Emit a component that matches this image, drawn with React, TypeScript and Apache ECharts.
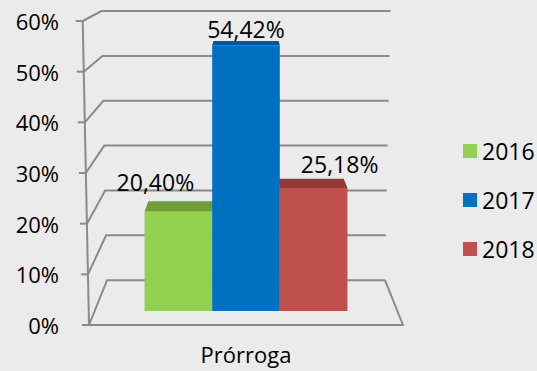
import React, { useEffect, useRef } from "react";
import * as echarts from "echarts";

const categories = ["Prórroga"];
const years = ["2016", "2017", "2018"];
const values = [20.4, 54.42, 25.18];
const tickValues = [0, 10, 20, 30, 40, 50, 60];

const FRONT_COLORS = ["#92D050", "#0070C0", "#C0504D"];
const CAP_COLORS = ["#6E9E3B", "#0059A0", "#933937"];
const LABEL_OFFSETS = [[-23, -19], [0, -12], [26, -15]];
const BAR_Z = [3, 4, 3];

const FONT = "'Open Sans', sans-serif";
const GRID_COLOR = "#8A8A8A";
const BG = "#EBEBEB";

// simple one-point perspective of the Excel-like 3D box
const DEPTH = 0.115; // how much the back wall shrinks toward the vanishing point
const VP_LEVEL = 77; // vanishing point height, in axis units
const FRAME_SPREAD = 0.04; // box widens slightly toward the top
const BAR_FRONT = 0.31;
const BAR_BACK = 0.62;
const GROUP = 0.67;

function makeProj(api: any) {
  const c0 = api.coord([0, 0]);
  const cTop = api.coord([0, 60]);
  const band = api.size([1, 0])[0];
  const cx = c0[0];
  const ppu = (c0[1] - cTop[1]) / 60;
  const vpY = c0[1] - VP_LEVEL * ppu;
  return (u: number, v: number, d: number, spread: number) => {
    const y = api.coord([0, v])[1];
    const x = cx + (u - 0.5) * band * (1 + (spread * v) / 60);
    const k = d * DEPTH;
    return [x + k * (cx - x), y + k * (vpY - y)];
  };
}

function fmt(v: number) {
  return v.toFixed(2).replace(".", ",") + "%";
}

export default function App() {
  const ref = useRef<HTMLDivElement>(null);
  useEffect(() => {
    if (!ref.current) return;
    const chart = echarts.init(ref.current, undefined, { renderer: "svg" });
    const lineStyle = { stroke: GRID_COLOR, lineWidth: 2, fill: null };

    const frameSeries = {
      type: "custom",
      name: "frame",
      z: 1,
      silent: true,
      data: tickValues.map((t) => [0, t]),
      renderItem: (params: any, api: any) => {
        const P = makeProj(api);
        const v = api.value(1);
        const F = P(0, v, 0, FRAME_SPREAD);
        const B = P(0, v, 1, FRAME_SPREAD);
        const BR = P(1, v, 1, FRAME_SPREAD);
        const children: any[] = [
          { type: "polyline", shape: { points: [F, B, BR] }, style: lineStyle },
          { type: "line", shape: { x1: F[0] - 7, y1: F[1], x2: F[0], y2: F[1] }, style: lineStyle },
        ];
        if (v === 0) {
          const FR = P(1, 0, 0, FRAME_SPREAD);
          children.push({ type: "line", shape: { x1: BR[0], y1: BR[1], x2: FR[0], y2: FR[1] }, style: lineStyle });
          const T = P(0, 60, 0, FRAME_SPREAD);
          children.push({ type: "line", shape: { x1: F[0], y1: F[1], x2: T[0], y2: T[1] }, style: lineStyle });
        }
        return { type: "group", children };
      },
    };

    const barSeries = years.map((year, i) => ({
      type: "custom",
      name: year,
      z: BAR_Z[i],
      itemStyle: { color: FRONT_COLORS[i] },
      data: [[0, values[i]]],
      renderItem: (params: any, api: any) => {
        const P = makeProj(api);
        const v = api.value(1);
        const uL = 0.5 - GROUP / 2 + (i * GROUP) / 3;
        const uR = uL + GROUP / 3;
        const fl0 = P(uL, 0, BAR_FRONT, 0);
        const fr0 = P(uR, 0, BAR_FRONT, 0);
        const flv = P(uL, v, BAR_FRONT, 0);
        const frv = P(uR, v, BAR_FRONT, 0);
        const blv = P(uL, v, BAR_BACK, 0);
        const brv = P(uR, v, BAR_BACK, 0);
        const cx = (flv[0] + frv[0]) / 2;
        return {
          type: "group",
          children: [
            { type: "polygon", shape: { points: [fl0, fr0, frv, flv] }, style: { fill: FRONT_COLORS[i] } },
            { type: "polygon", shape: { points: [flv, frv, brv, blv] }, style: { fill: CAP_COLORS[i] } },
            {
              type: "text",
              x: cx + LABEL_OFFSETS[i][0],
              y: blv[1] + LABEL_OFFSETS[i][1],
              z2: 10,
              style: {
                text: fmt(v),
                fill: "#000",
                fontSize: 23,
                fontFamily: FONT,
                align: "center",
                verticalAlign: "middle",
              },
            },
          ],
        };
      },
    }));

    chart.setOption({
      animation: false,
      backgroundColor: BG,
      textStyle: { fontFamily: FONT },
      grid: { left: 89, right: 134, top: 21, bottom: 46, containLabel: false },
      legend: {
        orient: "vertical",
        left: 458,
        top: 134,
        itemWidth: 14,
        itemHeight: 14,
        itemGap: 25,
        icon: "rect",
        data: years,
        selectedMode: false,
        textStyle: { fontSize: 23, lineHeight: 24, color: "#000", fontFamily: FONT },
      },
      xAxis: {
        type: "category",
        data: categories,
        axisLine: { lineStyle: { color: GRID_COLOR, width: 2 } },
        axisTick: { length: 7, lineStyle: { color: GRID_COLOR, width: 2 } },
        axisLabel: { fontSize: 22, color: "#000", margin: 18, fontFamily: FONT },
        splitLine: { show: false },
      },
      yAxis: {
        type: "value",
        min: 0,
        max: 60,
        interval: 10,
        axisLine: { show: false },
        axisTick: { show: false },
        splitLine: { show: false },
        axisLabel: { fontSize: 22, color: "#000", margin: 30, fontFamily: FONT, formatter: "{value}%" },
      },
      series: [frameSeries, ...barSeries],
    });
    return () => chart.dispose();
  }, []);
  return (
    <div
      ref={ref}
      style={{ position: "fixed", left: 0, top: 0, width: 537, height: 371, background: BG }}
    />
  );
}
